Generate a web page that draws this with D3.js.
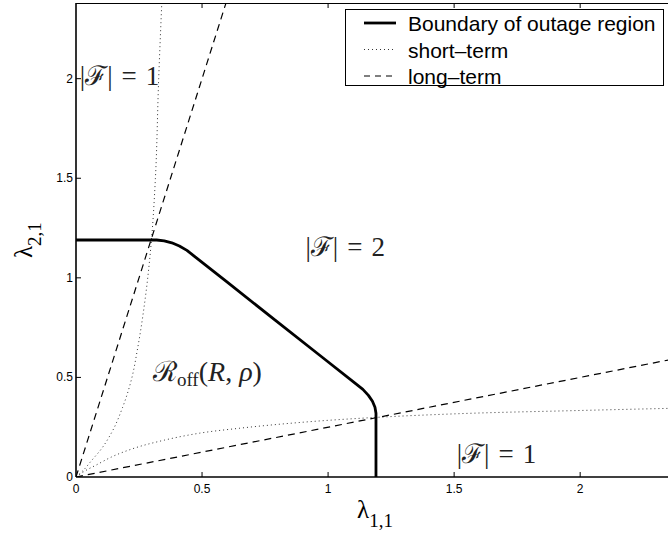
<!DOCTYPE html>
<html>
<head>
<meta charset="utf-8">
<script src="https://cdn.jsdelivr.net/npm/d3@7"></script>
<style>
  html, body { margin: 0; padding: 0; background: #fff; }
  svg { display: block; }
</style>
</head>
<body>
<svg id="chart" width="668" height="536"></svg>
<script>
// Outage-region boundary in the (lambda_{1,1}, lambda_{2,1}) plane
const boundaryPts = [
  [0.00, 1.19], [0.32, 1.19], [0.35, 1.186], [0.38, 1.176], [0.41, 1.16],
  [0.44, 1.138], [0.47, 1.108], [0.60, 0.978], [0.79, 0.788], [0.978, 0.60],
  [1.108, 0.47], [1.138, 0.44], [1.16, 0.41], [1.176, 0.38], [1.186, 0.35],
  [1.19, 0.32], [1.19, 0.00]
];
// Short-term curves (dotted)
const shortUpper = [
  [0, 0], [0.03, 0.035], [0.06, 0.08], [0.10, 0.14], [0.14, 0.22],
  [0.185, 0.35], [0.22, 0.49], [0.245, 0.65], [0.275, 0.90], [0.30, 1.20],
  [0.315, 1.50], [0.328, 2.00], [0.341, 2.40]
];
const shortLower = [
  [0, 0], [0.035, 0.03], [0.08, 0.06], [0.14, 0.10], [0.22, 0.14],
  [0.35, 0.185], [0.49, 0.22], [0.65, 0.245], [0.90, 0.275], [1.20, 0.30],
  [1.50, 0.317], [2.00, 0.334], [2.40, 0.346]
];
// Long-term lines (dashed)
const longUpper = [[0, 0], [0.6, 2.4]];
const longLower = [[0, 0], [2.4, 0.6]];

const xTicks = [0, 0.5, 1, 1.5, 2];
const yTicks = [0, 0.5, 1, 1.5, 2];
const xTickLabels = ["0", "0.5", "1", "1.5", "2"];
const yTickLabels = ["0", "0.5", "1", "1.5", "2"];
const legendLabels = ["Boundary of outage region", "short\u2013term", "long\u2013term"];

const svg = d3.select("#chart");
const L = 76, T = 3, B = 477, R = 681;
const x = d3.scaleLinear().domain([0, 2.4]).range([L, R]);
const y = d3.scaleLinear().domain([0, 2.38]).range([B, T]);

svg.append("defs").append("clipPath").attr("id", "plotclip")
  .append("rect").attr("x", L).attr("y", T).attr("width", R - L).attr("height", B - T);

const line = d3.line().x(d => x(d[0])).y(d => y(d[1]));
const curveX = d3.line().x(d => x(d[0])).y(d => y(d[1])).curve(d3.curveMonotoneX);
const curveY = d3.line().x(d => x(d[0])).y(d => y(d[1])).curve(d3.curveMonotoneY);

const plot = svg.append("g").attr("clip-path", "url(#plotclip)");

// dotted short-term curves
plot.append("path").attr("d", curveY(shortUpper)).attr("fill", "none")
  .attr("stroke", "#333").attr("stroke-width", 1).attr("stroke-dasharray", "1,3");
plot.append("path").attr("d", curveX(shortLower)).attr("fill", "none")
  .attr("stroke", "#333").attr("stroke-width", 1).attr("stroke-dasharray", "1,3");
// dashed long-term lines
[longUpper, longLower].forEach(p => {
  plot.append("path").attr("d", line(p)).attr("fill", "none")
    .attr("stroke", "#000").attr("stroke-width", 1.2).attr("stroke-dasharray", "7,5");
});
// boundary
plot.append("path").attr("d", line(boundaryPts))
  .attr("fill", "none").attr("stroke", "#000").attr("stroke-width", 2.8)
  .attr("stroke-linejoin", "round");

// axes frame
const ax = svg.append("g");
ax.append("line").attr("x1", L).attr("x2", R).attr("y1", T + 0.5).attr("y2", T + 0.5)
  .attr("stroke", "#000").attr("stroke-width", 1);
ax.append("line").attr("x1", L).attr("x2", L).attr("y1", T).attr("y2", B)
  .attr("stroke", "#000").attr("stroke-width", 1.6);
ax.append("line").attr("x1", L).attr("x2", R).attr("y1", B).attr("y2", B)
  .attr("stroke", "#000").attr("stroke-width", 1.6);

// ticks (inward, bottom/top and left)
xTicks.forEach((t, i) => {
  if (t > 0) {
    ax.append("line").attr("x1", x(t)).attr("x2", x(t)).attr("y1", B).attr("y2", B - 5)
      .attr("stroke", "#000").attr("stroke-width", 1);
    ax.append("line").attr("x1", x(t)).attr("x2", x(t)).attr("y1", T).attr("y2", T + 5)
      .attr("stroke", "#000").attr("stroke-width", 1);
  }
  ax.append("text").attr("x", x(t)).attr("y", B + 16)
    .attr("text-anchor", "middle").attr("font-family", "Liberation Sans, Arial, sans-serif")
    .attr("font-size", 12).text(xTickLabels[i]);
});
yTicks.forEach((t, i) => {
  if (t > 0) {
    ax.append("line").attr("x1", L).attr("x2", L + 5).attr("y1", y(t)).attr("y2", y(t))
      .attr("stroke", "#000").attr("stroke-width", 1);
  }
  ax.append("text").attr("x", L - 3).attr("y", y(t) + 4)
    .attr("text-anchor", "end").attr("font-family", "Liberation Sans, Arial, sans-serif")
    .attr("font-size", 12).text(yTickLabels[i]);
});

// axis labels
const serif = "Liberation Serif, Times New Roman, DejaVu Serif, serif";
const xl = svg.append("text").attr("x", 357).attr("y", 518).attr("font-family", serif);
xl.append("tspan").attr("font-size", 25).text("\u03bb");
xl.append("tspan").attr("font-size", 19).attr("dy", 9).text("1,1");

const yl = svg.append("text").attr("transform", "translate(32,258) rotate(-90)").attr("font-family", serif);
yl.append("tspan").attr("font-size", 25).text("\u03bb");
yl.append("tspan").attr("font-size", 19).attr("dy", 9).text("2,1");

// region annotations
const mathFont = "Liberation Serif, DejaVu Serif, serif";
function cardLabel(px, py, n) {
  const t = svg.append("text").attr("x", px).attr("y", py).attr("font-family", mathFont)
    .attr("font-size", 27).attr("fill", "#222");
  t.append("tspan").text("|\u2131|");
  t.append("tspan").attr("dx", 9).text("=");
  t.append("tspan").attr("dx", 9).text(n);
}
cardLabel(x(0.015), y(1.97), 1);
cardLabel(x(0.91), y(1.11), 2);
cardLabel(x(1.51), y(0.07), 1);

const rl = svg.append("text").attr("x", x(0.305)).attr("y", y(0.48)).attr("font-family", mathFont)
  .attr("font-size", 28).attr("fill", "#222");
rl.append("tspan").text("\u211b");
rl.append("tspan").attr("font-size", 19).attr("dy", 5).text("off");
rl.append("tspan").attr("dy", -5).text("(");
rl.append("tspan").attr("font-style", "italic").text("R");
rl.append("tspan").text(", ");
rl.append("tspan").attr("font-style", "italic").text("\u03c1");
rl.append("tspan").text(")");

// legend
const lg = svg.append("g");
lg.append("rect").attr("x", 345.5).attr("y", 9.5).attr("width", 318).attr("height", 76)
  .attr("fill", "#fff").attr("stroke", "#000").attr("stroke-width", 1);
const legStyles = [
  { w: 2.8, dash: null, c: "#000" },
  { w: 1, dash: "1,3", c: "#333" },
  { w: 1.2, dash: "6,5", c: "#000" }
];
legendLabels.forEach((lab, i) => {
  const cy = 23 + i * 26.5;
  lg.append("line").attr("x1", 364).attr("x2", 396).attr("y1", cy).attr("y2", cy)
    .attr("stroke", legStyles[i].c).attr("stroke-width", legStyles[i].w)
    .attr("stroke-dasharray", legStyles[i].dash);
  lg.append("text").attr("x", 408).attr("y", cy + 8).attr("font-family", "Liberation Sans, Arial, sans-serif")
    .attr("font-size", 21).text(lab);
});
</script>
</body>
</html>
